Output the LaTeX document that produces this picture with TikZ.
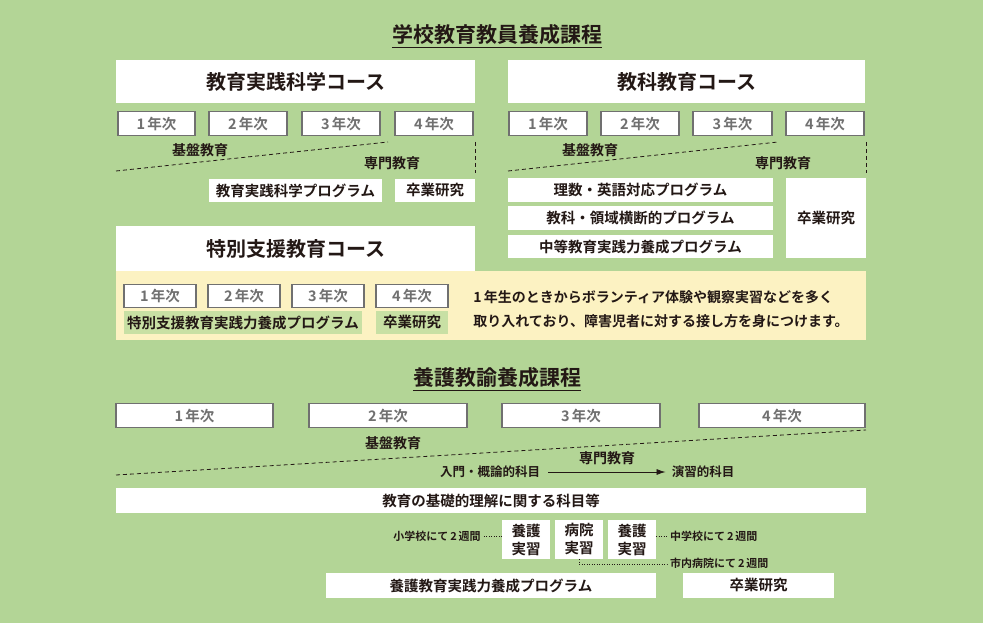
\documentclass[tikz,border=0pt]{standalone}
\usepackage{fontspec}
\setmainfont{Noto Sans CJK JP}[BoldFont={Noto Sans CJK JP Bold}]
\usetikzlibrary{arrows.meta}
\definecolor{bg}{HTML}{B3D596}
\definecolor{ylw}{HTML}{FCF2C2}
\definecolor{gbox}{HTML}{C8E0A4}
\definecolor{ink}{HTML}{231815}
\definecolor{gry}{HTML}{707070}
\tikzset{
 wbox/.style={fill=white,draw=none,inner sep=0pt,text=ink,font=\bfseries\fontsize{14.5}{17}\selectfont},
 ybox/.style={fill=white,draw=gry,line width=1.5pt,inner sep=0pt,text=gry,font=\bfseries\fontsize{14.5}{17}\selectfont},
 lbl/.style={text=ink,font=\bfseries\fontsize{14}{17}\selectfont,inner sep=0pt},
 sml/.style={text=ink,font=\bfseries\fontsize{11}{13}\selectfont,inner sep=0pt},
 dsh/.style={ink,line width=0.8pt,dash pattern=on 4pt off 3pt},
 dot/.style={ink,line width=0.7pt,dash pattern=on 1pt off 1.5pt},
}
\begin{document}
\begin{tikzpicture}[x=1pt,y=-1pt]
\fill[bg] (0,0) rectangle (983,623);
\useasboundingbox (0,0) rectangle (983,623);
% title
\node[lbl,font=\bfseries\fontsize{21}{24}\selectfont] (t1) at (497,35) {学校教育教員養成課程};
\draw[ink,line width=1pt] ([yshift=-2pt]t1.south west) -- ([yshift=-2pt]t1.south east);
% top
\node[wbox,minimum width=359,minimum height=43,font=\bfseries\fontsize{20}{23}\selectfont] (c1) at (295.5,81.5) {教育実践科学コース};
\node[wbox,minimum width=357,minimum height=43,font=\bfseries\fontsize{20}{23}\selectfont] (c2) at (686.5,81.5) {教科教育コース};
\foreach \a/\b/\n in {118/195/1,209/287/2,302/380/3,395/473/4}{
 \node[ybox,minimum width=\b-\a,minimum height=24] (l\n) at ({(\a+\b)/2},123.5) {\n\,年次};}
\foreach \a/\b/\n in {509/587/1,601/679/2,693/772/3,786/864/4}{
 \node[ybox,minimum width=\b-\a,minimum height=24] (r\n) at ({(\a+\b)/2},123.5) {\n\,年次};}
\node[lbl] (lk) at (200,150) {基盤教育};
\node[lbl] (ls) at (392,163) {専門教育};
\draw[dsh] (116,171) -- (388,142);
\draw[dsh] (475,142) -- (475,173);
\node[wbox,minimum width=173,minimum height=23] (lp) at (295.5,190.5) {教育実践科学プログラム};
\node[wbox,minimum width=80,minimum height=23] (lg) at (435,190.5) {卒業研究};
\node[lbl] (rk) at (590,150) {基盤教育};
\node[lbl] (rs) at (783,163) {専門教育};
\draw[dsh] (508,171) -- (778,142);
\draw[dsh] (866,142) -- (866,173);
\node[wbox,minimum width=265,minimum height=24] (rp1) at (640.5,190) {理数・英語対応プログラム};
\node[wbox,minimum width=265,minimum height=24] (rp2) at (640.5,218) {教科・領域横断的プログラム};
\node[wbox,minimum width=265,minimum height=23] (rp3) at (640.5,246.5) {中等教育実践力養成プログラム};
\node[wbox,minimum width=80,minimum height=80] (rg) at (826,218) {卒業研究};
% special support
\node[wbox,minimum width=359,minimum height=45,font=\bfseries\fontsize{20}{23}\selectfont] (c3) at (295.5,248.5) {特別支援教育コース};
\fill[ylw] (116,271) rectangle (866,340);
\foreach \a/\b/\n in {124/196/1,208/280/2,292/364/3,376/448/4}{
 \node[ybox,minimum width=\b-\a,minimum height=23] (s\n) at ({(\a+\b)/2},296) {\n\,年次};}
\node[wbox,fill=gbox,minimum width=238,minimum height=23] (sp) at (243,322.5) {特別支援教育実践力養成プログラム};
\node[wbox,fill=gbox,minimum width=72,minimum height=23] (sg) at (412,322.5) {卒業研究};
\node[lbl,align=left,font=\bfseries\fontsize{14}{24}\selectfont] (st) at (661,309) {1\,年生のときからボランティア体験や観察実習などを多く\\取り入れており、障害児者に対する接し方を身につけます。};
% yogo
\node[lbl,font=\bfseries\fontsize{21}{24}\selectfont] (t2) at (497,378) {養護教諭養成課程};
\draw[ink,line width=1pt] ([yshift=-2pt]t2.south west) -- ([yshift=-2pt]t2.south east);
\foreach \a/\b/\n in {116/273/1,309/467/2,502/660/3,699/865/4}{
 \node[ybox,minimum width=\b-\a,minimum height=24] (y\n) at ({(\a+\b)/2},415.5) {\n\,年次};}
\node[lbl] (yk) at (393,443) {基盤教育};
\draw[dsh] (116,475) -- (866,430);
\node[lbl] (ys) at (607,458) {専門教育};
\node[sml,font=\bfseries\fontsize{12.5}{15}\selectfont] (ya) at (490,472) {入門・概論的科目};
\node[sml,font=\bfseries\fontsize{12.5}{15}\selectfont] (yb) at (703,472) {演習的科目};
\draw[ink,line width=0.8pt,-{Latex[length=9pt,width=6pt]}] ([xshift=8pt]ya.east) -- ([xshift=-6pt]yb.west);
\node[wbox,minimum width=750,minimum height=25] (yf) at (491,500.5) {教育の基礎的理解に関する科目等};
\node[wbox,align=center,minimum width=48,minimum height=39,font=\bfseries\fontsize{14.5}{18}\selectfont] (j1) at (526,539.5) {養護\\実習};
\node[wbox,align=center,minimum width=48,minimum height=39,font=\bfseries\fontsize{14.5}{18}\selectfont] (j2) at (579,539.5) {病院\\実習};
\node[wbox,align=center,minimum width=48,minimum height=39,font=\bfseries\fontsize{14.5}{18}\selectfont] (j3) at (632,539.5) {養護\\実習};
\node[sml] (n1) at (437,536) {小学校にて\,2\,週間};
\node[sml,anchor=west] (n2) at (670,536) {中学校にて\,2\,週間};
\node[sml,anchor=west] (n3) at (670,563) {市内病院にて\,2\,週間};
\draw[dot] ([xshift=3pt]n1.east) -- (j1.west |- n1.east);
\draw[dot] (j3.east |- n2.west) -- ([xshift=-3pt]n2.west);
\draw[dot] (j2.south) -- ++(0,5) -| ([xshift=-3pt]n3.west);
\node[wbox,minimum width=330,minimum height=25] (yp) at (491,585.5) {養護教育実践力養成プログラム};
\node[wbox,minimum width=151,minimum height=25] (yg) at (758.5,585.5) {卒業研究};
\end{tikzpicture}
\end{document}
